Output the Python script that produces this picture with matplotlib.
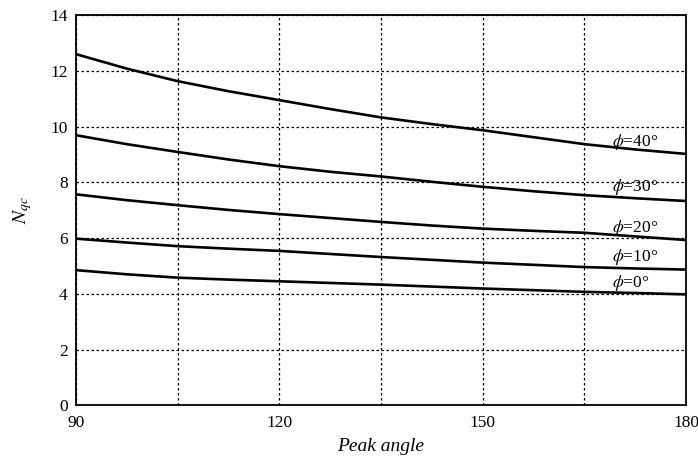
import matplotlib
matplotlib.use("Agg")
import matplotlib.pyplot as plt

plt.rcParams['font.family'] = ['Liberation Serif', 'DejaVu Serif']
plt.rcParams['mathtext.fontset'] = 'stix'

# Bearing capacity factor vs. peak angle for several friction angles
peak_angle = [90, 97.5, 105, 112.5, 120, 127.5, 135, 142.5, 150, 157.5, 165, 172.5, 180]
n_phi0 = [4.85, 4.70, 4.58, 4.51, 4.45, 4.39, 4.33, 4.26, 4.19, 4.13, 4.07, 4.03, 3.98]
n_phi10 = [5.98, 5.84, 5.71, 5.62, 5.54, 5.43, 5.32, 5.22, 5.12, 5.04, 4.96, 4.91, 4.87]
n_phi20 = [7.57, 7.36, 7.18, 7.01, 6.86, 6.72, 6.58, 6.45, 6.34, 6.26, 6.19, 6.06, 5.93]
n_phi30 = [9.69, 9.37, 9.09, 8.82, 8.58, 8.38, 8.21, 8.02, 7.84, 7.68, 7.54, 7.43, 7.33]
n_phi40 = [12.6, 12.08, 11.63, 11.27, 10.95, 10.63, 10.33, 10.09, 9.87, 9.62, 9.37, 9.18, 9.02]

series = [n_phi0, n_phi10, n_phi20, n_phi30, n_phi40]
phi_labels = ['0', '10', '20', '30', '40']
label_y = [4.38, 5.32, 6.35, 7.82, 9.45]

x_ticks = [90, 120, 150, 180]
y_ticks = [0, 2, 4, 6, 8, 10, 12, 14]

fig = plt.figure(figsize=(6.98, 4.59), dpi=100)
ax = fig.add_axes([0.109, 0.117, 0.874, 0.850])

for ys in series:
    ax.plot(peak_angle, ys, color='black', linewidth=1.9, solid_capstyle='butt')

for lab, yl in zip(phi_labels, label_y):
    ax.text(169.0, yl, r'$\phi$' + '=' + lab + '°', fontsize=12.5,
            va='center', ha='left', color='black')

ax.set_xlim(90, 180)
ax.set_ylim(0, 14)
ax.set_xticks(x_ticks)
ax.set_yticks(y_ticks)
ax.set_xticks([105, 135, 165], minor=True)
ax.tick_params(axis='both', which='both', length=0, labelsize=12.5, colors='black')
ax.tick_params(axis='x', pad=7)
ax.tick_params(axis='y', pad=6)

ax.grid(True, which='both', color='black', linestyle=(0, (2, 2)), linewidth=0.9)
ax.set_axisbelow(True)
for s in ax.spines.values():
    s.set_linewidth(1.3)
    s.set_color('black')

ax.set_xlabel('Peak angle', fontsize=14, fontstyle='italic', labelpad=5)
ax.set_ylabel(r'$N_{qc}$', fontsize=14, labelpad=12)

fig.savefig('out.png', dpi=100)
